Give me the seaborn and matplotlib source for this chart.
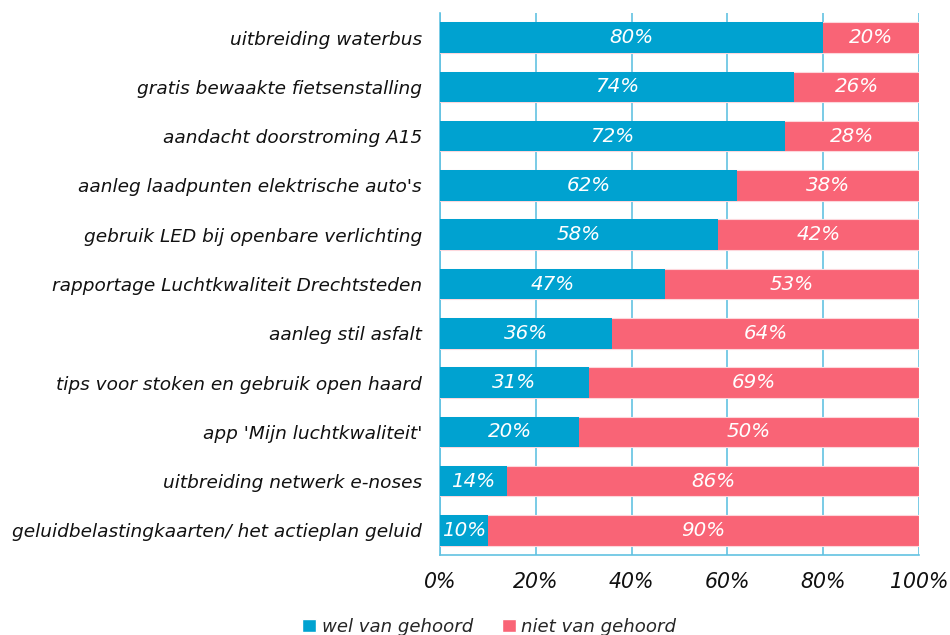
import matplotlib
matplotlib.use('Agg')
import matplotlib.pyplot as plt
from matplotlib.patches import Patch
import numpy as np
import pandas as pd
import seaborn as sns

# ── DATA ──────────────────────────────────────────────────
categories = [
    'uitbreiding waterbus',
    'gratis bewaakte fietsenstalling',
    'aandacht doorstroming A15',
    "aanleg laadpunten elektrische auto's",
    'gebruik LED bij openbare verlichting',
    'rapportage Luchtkwaliteit Drechtsteden',
    'aanleg stil asfalt',
    'tips voor stoken en gebruik open haard',
    "app 'Mijn luchtkwaliteit'",
    'uitbreiding netwerk e-noses',
    'geluidbelastingkaarten/ het actieplan geluid',
]
wel = [80, 74, 72, 62, 58, 47, 36, 31, 29, 14, 10]
niet = [20, 26, 28, 38, 42, 53, 64, 69, 71, 86, 90]
wel_labels = ['80%', '74%', '72%', '62%', '58%', '47%', '36%', '31%', '20%', '14%', '10%']
niet_labels = ['20%', '26%', '28%', '38%', '42%', '53%', '64%', '69%', '50%', '86%', '90%']
x_ticks = [0, 20, 40, 60, 80, 100]

BLUE = '#00A2D0'
RED = '#F96476'
GRID = '#62C2E2'

df = pd.DataFrame({'cat': categories, 'wel': wel, 'niet': niet})
df['total'] = df['wel'] + df['niet']

sns.set_style('white')
plt.rcParams['font.family'] = ['DejaVu Sans']

fig = plt.figure(figsize=(9.5, 6.35), dpi=100)
ax = fig.add_axes([0.4632, 0.126, 0.5042, 0.8535])

sns.barplot(data=df, x='total', y='cat', color=RED, width=0.62, orient='h',
            ax=ax, edgecolor='#FDD7DC', linewidth=0.8, saturation=1, zorder=3)
sns.barplot(data=df, x='wel', y='cat', color=BLUE, width=0.62, orient='h',
            ax=ax, edgecolor='none', saturation=1, zorder=4)

# segment labels
for i in range(len(categories)):
    ax.text(wel[i] / 2, i, wel_labels[i], color='white', style='italic',
            fontsize=14.3, ha='center', va='center', zorder=5)
    ax.text(wel[i] + niet[i] / 2, i, niet_labels[i], color='white', style='italic',
            fontsize=14.3, ha='center', va='center', zorder=5)

ax.set_xlim(0, 100)
ax.set_ylim(len(categories) - 0.5, -0.5)
ax.set_xticks(x_ticks)
ax.set_xticklabels([f'{t}%' for t in x_ticks], style='italic', fontsize=14.8)
ax.set_yticks(range(len(categories)))
ax.set_yticklabels(categories, style='italic', fontsize=13.3)
ax.set_yticks(np.arange(-0.5, len(categories), 1), minor=True)
ax.tick_params(axis='y', which='major', length=0, pad=13, colors='#111111')
ax.tick_params(axis='y', which='minor', length=6, color=GRID, width=1.2)
ax.tick_params(axis='x', length=6, width=1.2, pad=6, colors='#111111')
ax.tick_params(axis='x', color=GRID)
ax.set_xlabel('')
ax.set_ylabel('')

ax.grid(axis='x', color=GRID, linewidth=1.2, zorder=0)
ax.set_axisbelow(True)
for side in ['top', 'right']:
    ax.spines[side].set_visible(False)
for side in ['left', 'bottom']:
    ax.spines[side].set_color(GRID)
    ax.spines[side].set_linewidth(1.2)

handles = [Patch(facecolor=BLUE, label='wel van gehoord'),
           Patch(facecolor=RED, label='niet van gehoord')]
leg = fig.legend(handles=handles, loc='center', bbox_to_anchor=(0.515, 0.013),
                 ncol=2, frameon=False, handlelength=0.75, handleheight=0.75,
                 handletextpad=0.3, columnspacing=1.6,
                 prop={'style': 'italic', 'size': 13.1})

fig.savefig('out.png', dpi=100)
